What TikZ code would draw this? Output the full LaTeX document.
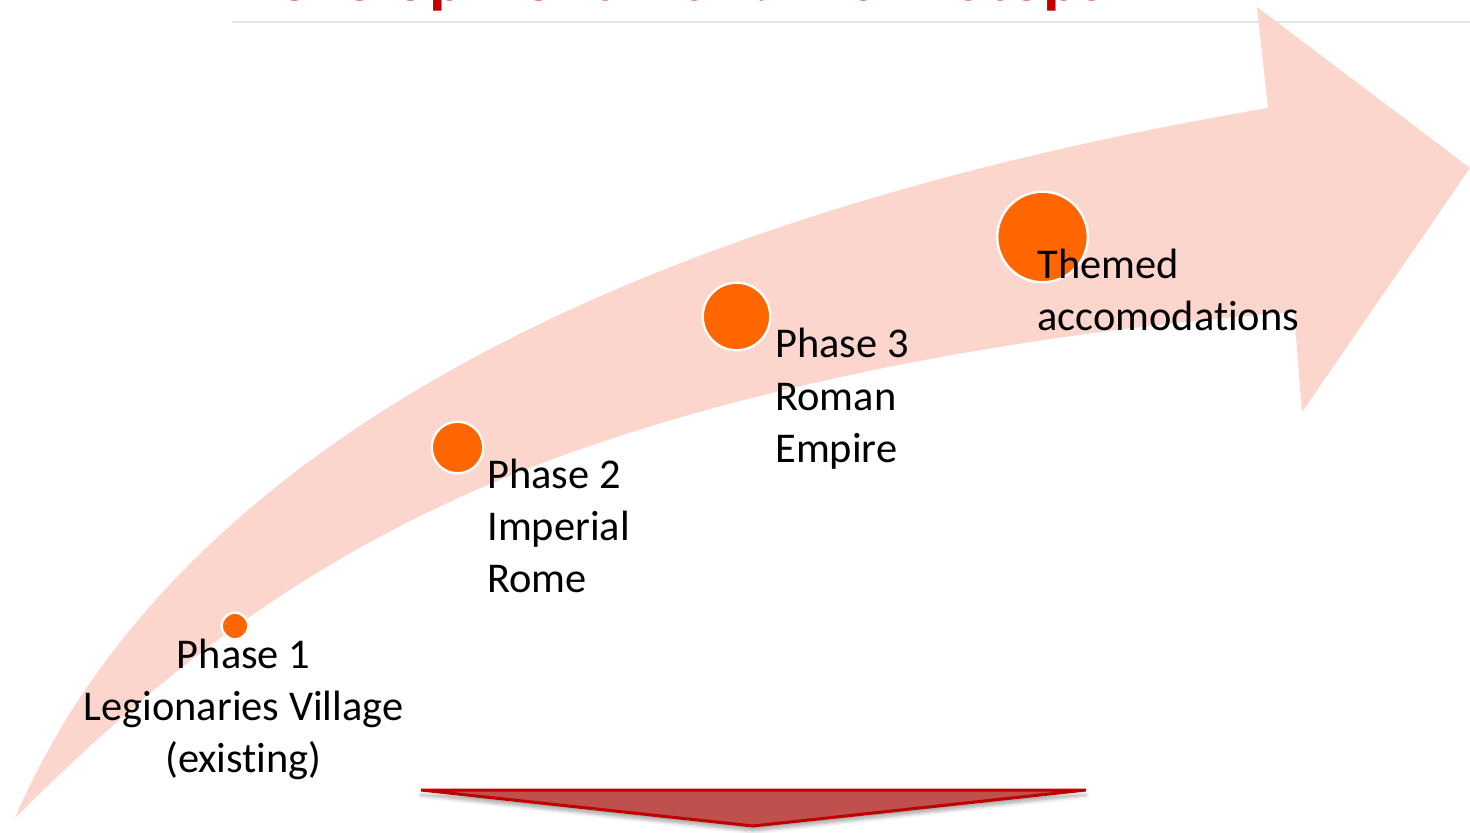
\documentclass[tikz,border=0pt]{standalone}
\usepackage{fontspec}
\setmainfont{Carlito}[Ligatures=NoCommon]
\usetikzlibrary{shadows.blur}
\definecolor{arrowfill}{RGB}{252,213,205}
\definecolor{dotfill}{RGB}{255,102,0}
\definecolor{titlered}{RGB}{192,0,0}
\definecolor{chevfill}{RGB}{192,80,77}
\definecolor{chevline}{RGB}{192,0,0}
\definecolor{rulegrey}{RGB}{228,228,228}
\begin{document}
\begin{tikzpicture}[x=0.5pt,y=-0.5pt,
  dot/.style={circle, fill=dotfill, draw=white, line width=1.2pt, inner sep=0pt},
  steptext/.style={inner sep=0pt, font=\fontsize{21.2}{26}\selectfont, text=black},
]
\clip (0,0) rectangle (1470,833);

% heading, partly above the top edge
\node[anchor=base west, inner sep=0pt, font=\fontsize{34}{40}\selectfont\bfseries, text=titlered]
  (title) at (233,1) {Development Plan: Main Steps};
\draw[rulegrey, line width=1pt] (232,22) -- (1470,22);

% the big curved arrow
\fill[arrowfill] (15,818) .. controls (167,464) and (593,223) .. (1268,108)
  -- (1257,7) -- (1470,168) -- (1302,412) -- (1294,312)
  .. controls (1024,332.5) and (713,388) .. (483,487)
  .. controls (293,569) and (155,678) .. (15,818) -- cycle;

% milestones
\node[dot, minimum size=13.3pt] (d1) at (235,626) {};
\node[dot, minimum size=25.8pt] (d2) at (457.5,447.5) {};
\node[dot, minimum size=33.8pt] (d3) at (736.5,316.5) {};
\node[dot, minimum size=45.3pt] (d4) at (1042.5,237) {};

\node[steptext, anchor=base] (t1) at (243.5,668)
  {\begin{tabular}[t]{@{}c@{}}Phase 1\\Legionaries Village\\(existing)\end{tabular}};
\node[steptext, anchor=base west] (t2) at (487,488)
  {\begin{tabular}[t]{@{}l@{}}Phase 2\\Imperial\\Rome\end{tabular}};
\node[steptext, anchor=base west] (t3) at (775,358)
  {\begin{tabular}[t]{@{}l@{}}Phase 3\\Roman\\Empire\end{tabular}};
\node[steptext, anchor=base west] (t4) at (1037,279)
  {\begin{tabular}[t]{@{}l@{}}Themed\\accomodations\end{tabular}};

% pointer at the bottom
\path[fill=chevfill, draw=chevline, line width=1.5pt,
  blur shadow={shadow xshift=0pt, shadow yshift=-2.5pt, shadow blur steps=6, shadow opacity=35}]
  (421,790) -- (1086,790) -- (753,826) -- cycle;
\end{tikzpicture}
\end{document}
